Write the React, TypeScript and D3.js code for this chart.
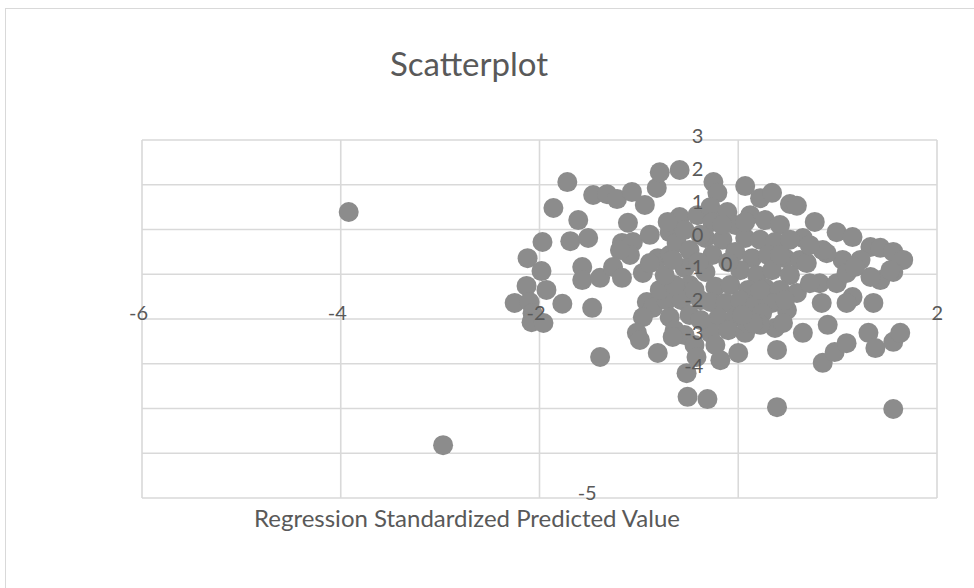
import React from "react";
import * as d3 from "d3";

const xValues = [
  -3.92, -2.97,
  -1.72, -1.86, -1.61, -1.69, -1.51, -1.97, -2.12, -1.98, -1.57, -1.57, -1.39, -2.13, -1.93, -2.25, -2.10, -2.07, -2.08, -1.96, -1.77, -1.47, -1.39,
  -1.46, -1.32, -1.22, -1.07, -0.94, -0.82, -0.79, -0.59, -1.11, -1.17, -1.06, -1.09, -1.19, -1.26, -1.17, -0.96, -0.89, -0.69, -0.59, -0.81, -0.69, -0.62, -0.89,
  -0.92, -0.86, -0.96, -1.02, -0.99, -0.81, -0.72, -0.69, -0.64, -0.52, -0.51, -0.31,
  -0.54, -0.49, -0.54, -0.49, -0.57, -0.49, -0.54, -0.44, -0.41, -0.38,
  -0.25, -0.21, 0.07, 0.22, 0.34, 0.52, 0.59, -0.28, -0.11,
  -0.26, -0.03, 0.12, 0.27, 0.42, 0.77, 0.65,
  -0.33, -0.16, 0.07, 0.22, 0.37, 0.52,
  -0.26, -0.03, 0.14, 0.30, 0.47, 0.62,
  -0.33, 0.02, 0.19, 0.34, 0.52,
  -0.23, -0.08, 0.10, 0.27, 0.42, 0.59,
  -0.28, -0.13, 0.02, 0.17, 0.34, 0.49,
  -0.20, -0.03, 0.12, 0.24, 0.37,
  -0.28, -0.10, 0.07, 0.22,
  -0.18, 0.00, 0.39, 0.39, 0.45, 0.65, 0.90, 0.85, 0.97, 1.09, 1.31, 1.38, 1.56, 1.63, 1.56,
  0.99, 1.15, 1.33, 1.43, 1.56, 1.66, 1.56, 1.43, 1.23, 1.05, 0.89, 0.69, 0.82, 0.99, 1.15, 1.36, 1.09, 0.84, 0.72, 1.09, 1.33, 1.17, 1.53, 0.85,
  -0.79, -0.64, -0.74, -0.66, -0.42, 0.09, 0.15,
  -0.40, -0.10, -0.16, -0.38, -0.44, -0.38, 0.07, 0.42, 0.22, 0.04, 0.47, 0.72, -0.23, -0.66, -0.71,
];

const yValues = [
  1.39, -3.82,
  2.06, 1.48, 1.21, 0.74, 0.81, 0.72, 0.36, 0.07, 0.16, -0.13, -0.08, -0.26, -0.35, -0.64, -0.62, -0.87, -1.07, -1.09, -0.66, -0.75, -1.85,
  1.77, 1.79, 1.68, 1.84, 1.55, 1.93, 2.28, 2.33, 1.15, 0.70, 0.72, 0.43, 0.54, 0.16, -0.08, 0.03, 0.88, 0.94, 1.28, 0.36, 0.43, 0.70, 0.25,
  -0.62, -0.75, -0.96, -1.31, -1.47, -1.76, -0.58, -0.96, -1.25, -2.21, -2.74, -2.79,
  0.99, 0.54, 0.14, -0.24, -0.58, -0.91, -1.36, -1.58, 1.32, -0.58,
  2.06, 1.82, 1.97, 1.70, 1.82, 1.57, 1.53, 1.50, 1.39,
  1.17, 1.10, 1.32, 1.21, 1.10, 1.17, 0.81,
  0.81, 0.77, 0.81, 0.77, 0.72, 0.77,
  0.43, 0.50, 0.36, 0.43, 0.36, 0.32,
  0.05, 0.09, -0.02, 0.09, -0.02,
  -0.28, -0.24, -0.35, -0.31, -0.35, -0.42,
  -0.62, -0.64, -0.58, -0.69, -0.64, -0.80,
  -0.98, -0.96, -1.02, -0.87, -1.20,
  -1.31, -1.25, -1.31, -1.13,
  -1.92, -1.76, -1.69, -2.97, -1.09, -1.31, -1.13, -1.98, -1.74, -1.54, -1.31, -1.65, -1.51, -1.31, -3.01,
  0.94, 0.83, 0.61, 0.59, 0.50, 0.32, 0.05, -0.13, 0.32, 0.32, 0.47, 0.25, -0.20, -0.20, -0.51, -0.64, -0.64, -0.64, -0.20, 0.03, -0.06, 0.16, 0.09, 0.54,
  -0.35, -0.24, -0.02, -1.40, -1.85, -1.09, -1.09,
  0.27, 0.27, 1.10, 0.88, -0.35, -1.02, 1.17, 0.43, -0.35, -0.91, -0.58, 0.65, -1.58, 0.32, 1.17,
];

const xTicks = [-6, -4, -2, 0, 2];
const yTicks = [3, 2, 1, 0, -1, -2, -3, -4, -5];
const xTickLabels = ["-6", "-4", "-2", "2"];
const yTickLabels = ["3", "2", "1", "0", "-1", "-2", "-3", "-4"];
const title = "Scatterplot";
const xTitle = "Regression Standardized Predicted Value";

const W = 974;
const H = 588;
const FONT = "Lato, 'Open Sans', sans-serif";
const TEXT = "#595959";
const GRID = "#d9d9d9";
const MARK = "#8c8c8c";

export default function App() {
  const x = d3.scaleLinear().domain([-6, 2]).range([142, 937]);
  const y = d3.scaleLinear().domain([-5, 3]).range([498, 140]);
  // Excel's compressed vertical-axis label placement
  const yLab = d3.scaleLinear().domain([3, -4]).range([135, 365]);
  const pts = xValues.map((v, i) => [v, yValues[i]]);

  return (
    <svg width={W} height={H} style={{ position: "absolute", left: 0, top: 0, background: "#fff" }} fontFamily={FONT}>
      <rect x={5.5} y={8.5} width={W + 10} height={H + 10} fill="#fff" stroke={GRID} strokeWidth={1} />
      <text x={469} y={63} textAnchor="middle" dominantBaseline="central" fontSize={33} fill={TEXT}>
        {title}
      </text>
      {yTicks.map((t) => (
        <line key={"h" + t} x1={x(-6)} x2={x(2)} y1={y(t)} y2={y(t)} stroke={GRID} strokeWidth={1.6} />
      ))}
      {xTicks.map((t) => (
        <line key={"v" + t} x1={x(t)} x2={x(t)} y1={y(3)} y2={y(-5)} stroke={GRID} strokeWidth={1.6} />
      ))}
      {pts.map((p, i) => (
        <circle key={i} cx={x(p[0])} cy={y(p[1])} r={10} fill={MARK} />
      ))}
      {xTickLabels.map((l) => (
        <text key={"xl" + l} x={x(+l) + 6} y={312} textAnchor="end" dominantBaseline="central" fontSize={20} fill={TEXT}>
          {l}
        </text>
      ))}
      <text x={x(0) - 6} y={263} textAnchor="end" dominantBaseline="central" fontSize={20} fill={TEXT}>
        0
      </text>
      {yTickLabels.map((l) => (
        <text key={"yl" + l} x={x(0) - 35} y={yLab(+l)} textAnchor="end" dominantBaseline="central" fontSize={20} fill={TEXT}>
          {l}
        </text>
      ))}
      <text x={x(-1.52)} y={492} textAnchor="middle" dominantBaseline="central" fontSize={20} fill={TEXT}>
        -5
      </text>
      <text x={467} y={517} textAnchor="middle" dominantBaseline="central" fontSize={24} fill={TEXT}>
        {xTitle}
      </text>
    </svg>
  );
}
